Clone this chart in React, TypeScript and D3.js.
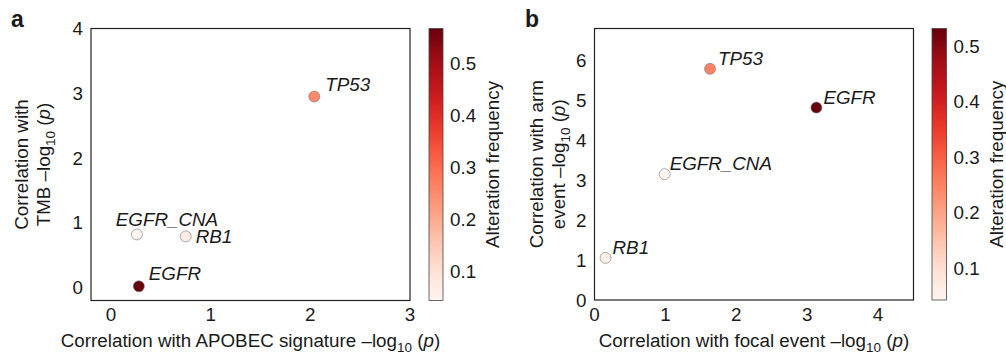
import React from 'react';
import * as d3 from 'd3';

// panel a: APOBEC vs TMB
const genesA = ['TP53', 'EGFR_CNA', 'RB1', 'EGFR'];
const apobecA = [2.04, 0.26, 0.75, 0.28];
const tmbA = [2.95, 0.82, 0.79, 0.02];
const freqA = [0.25, 0.044, 0.07, 0.567];

// panel b: focal vs arm event
const genesB = ['TP53', 'EGFR', 'EGFR_CNA', 'RB1'];
const focalB = [1.63, 3.13, 0.99, 0.156];
const armB = [5.79, 4.82, 3.15, 1.055];
const freqB = [0.25, 0.532, 0.042, 0.06];

const xTicksA = [0, 1, 2, 3];
const yTicksA = [0, 1, 2, 3, 4];
const xTicksB = [0, 1, 2, 3, 4];
const yTicksB = [0, 1, 2, 3, 4, 5, 6];
const cbTicks = [0.1, 0.2, 0.3, 0.4, 0.5];

const FONT = '"Liberation Sans", Arial, Helvetica, sans-serif';
const INK = '#1a1a1a';
const FS = 18.8;

type PanelProps = {
  letter: string;
  ox: number;
  letterX: number;
  genes: string[];
  xs: number[];
  ys: number[];
  freq: number[];
  xDomain: [number, number];
  yDomain: [number, number];
  xTicks: number[];
  yTicks: number[];
  xLabel: string;
  yLabel: [string, string];
  labelOff: Record<string, [number, number]>;
  box: { left: number; right: number; top: number; bottom: number };
  cb: { x: number; w: number };
  yLabelX: [number, number];
  cbLabelX: number;
};

const LogLabel = ({ pre }: { pre: string }) => (
  <>
    {pre}–log
    <tspan fontSize={13.5} dy={5}>10</tspan>
    <tspan dy={-5}> (</tspan>
    <tspan fontStyle="italic">p</tspan>)
  </>
);

const Panel = (p: PanelProps) => {
  const { box, ox } = p;
  const x = d3.scaleLinear().domain(p.xDomain).range([ox + box.left, ox + box.right]);
  const y = d3.scaleLinear().domain(p.yDomain).range([box.bottom, box.top]);
  const fmin = d3.min(p.freq) as number;
  const fmax = d3.max(p.freq) as number;
  const color = d3.scaleSequential(d3.interpolateReds).domain([fmin, fmax]);
  const cbY = d3.scaleLinear().domain([fmin, fmax]).range([box.bottom, box.top]);
  const gid = 'grad-' + p.letter;
  const stops = d3.range(0, 1.0001, 0.05);
  const cx = ox + p.cb.x;
  const midY = (box.top + box.bottom) / 2;

  return (
    <g fontFamily={FONT} fill={INK}>
      <defs>
        <linearGradient id={gid} x1="0" y1="1" x2="0" y2="0">
          {stops.map((t) => (
            <stop key={t} offset={t} stopColor={d3.interpolateReds(t)} />
          ))}
        </linearGradient>
      </defs>
      <text x={ox + p.letterX} y={27} fontSize={23} fontWeight="bold">
        {p.letter}
      </text>
      <rect x={ox + box.left} y={box.top} width={box.right - box.left} height={box.bottom - box.top}
        fill="none" stroke="#222" strokeWidth={1.2} />
      {p.xTicks.map((t) => (
        <text key={'x' + t} x={x(t)} y={321} fontSize={FS} textAnchor="middle">{t}</text>
      ))}
      {p.yTicks.map((t) => (
        <text key={'y' + t} x={ox + box.left - 8} y={y(t) + 6.7} fontSize={FS} textAnchor="end">{t}</text>
      ))}
      <text x={(x.range()[0] + x.range()[1]) / 2} y={346.5} fontSize={FS} textAnchor="middle">
        <LogLabel pre={p.xLabel + ' '} />
      </text>
      <text transform={`translate(${ox + p.yLabelX[0]},${midY}) rotate(-90)`} fontSize={FS} textAnchor="middle">
        {p.yLabel[0]}
      </text>
      <text transform={`translate(${ox + p.yLabelX[1]},${midY}) rotate(-90)`} fontSize={FS} textAnchor="middle">
        <LogLabel pre={p.yLabel[1] + ' '} />
      </text>
      {p.genes.map((g, i) => (
        <g key={g}>
          <circle cx={x(p.xs[i])} cy={y(p.ys[i])} r={5.5} fill={color(p.freq[i])} stroke="#777" strokeWidth={0.6} />
          <text x={x(p.xs[i]) + p.labelOff[g][0]} y={y(p.ys[i]) + p.labelOff[g][1]} fontSize={FS} fontStyle="italic">
            {g}
          </text>
        </g>
      ))}
      <rect x={cx} y={box.top} width={p.cb.w} height={box.bottom - box.top} fill={`url(#${gid})`}
        stroke="#444" strokeWidth={0.8} />
      {cbTicks.map((t) => (
        <text key={'c' + t} x={cx + p.cb.w + 7} y={cbY(t) + 6.7} fontSize={FS}>{t.toFixed(1)}</text>
      ))}
      <text transform={`translate(${ox + p.cbLabelX},${midY}) rotate(-90)`} fontSize={FS} textAnchor="middle">
        Alteration frequency
      </text>
    </g>
  );
};

export default function App() {
  return (
    <svg width={1006} height={355} style={{ position: 'absolute', left: 0, top: 0, background: '#fff' }}>
      <rect width={1006} height={355} fill="#fff" />
      <Panel
        letter="a"
        ox={0}
        letterX={11}
        genes={genesA}
        xs={apobecA}
        ys={tmbA}
        freq={freqA}
        xDomain={[-0.2, 3]}
        yDomain={[-0.2, 4]}
        xTicks={xTicksA}
        yTicks={yTicksA}
        xLabel="Correlation with APOBEC signature"
        yLabel={['Correlation with', 'TMB']}
        labelOff={{ TP53: [11, -6], EGFR_CNA: [-21, -8.5], RB1: [10, 6.5], EGFR: [10, -6] }}
        box={{ left: 91, right: 410, top: 28.5, bottom: 300.5 }}
        cb={{ x: 429, w: 14 }}
        yLabelX={[27.5, 49.5]}
        cbLabelX={498.5}
      />
      <Panel
        letter="b"
        ox={500}
        letterX={25}
        genes={genesB}
        xs={focalB}
        ys={armB}
        freq={freqB}
        xDomain={[0, 4.5]}
        yDomain={[0, 6.8]}
        xTicks={xTicksB}
        yTicks={yTicksB}
        xLabel="Correlation with focal event"
        yLabel={['Correlation with arm', 'event']}
        labelOff={{ TP53: [8, -4], EGFR: [7, -4], EGFR_CNA: [5, -4], RB1: [7, -4] }}
        box={{ left: 94.5, right: 413.5, top: 28.5, bottom: 300 }}
        cb={{ x: 432, w: 14.5 }}
        yLabelX={[42.5, 65]}
        cbLabelX={502.5}
      />
    </svg>
  );
}
